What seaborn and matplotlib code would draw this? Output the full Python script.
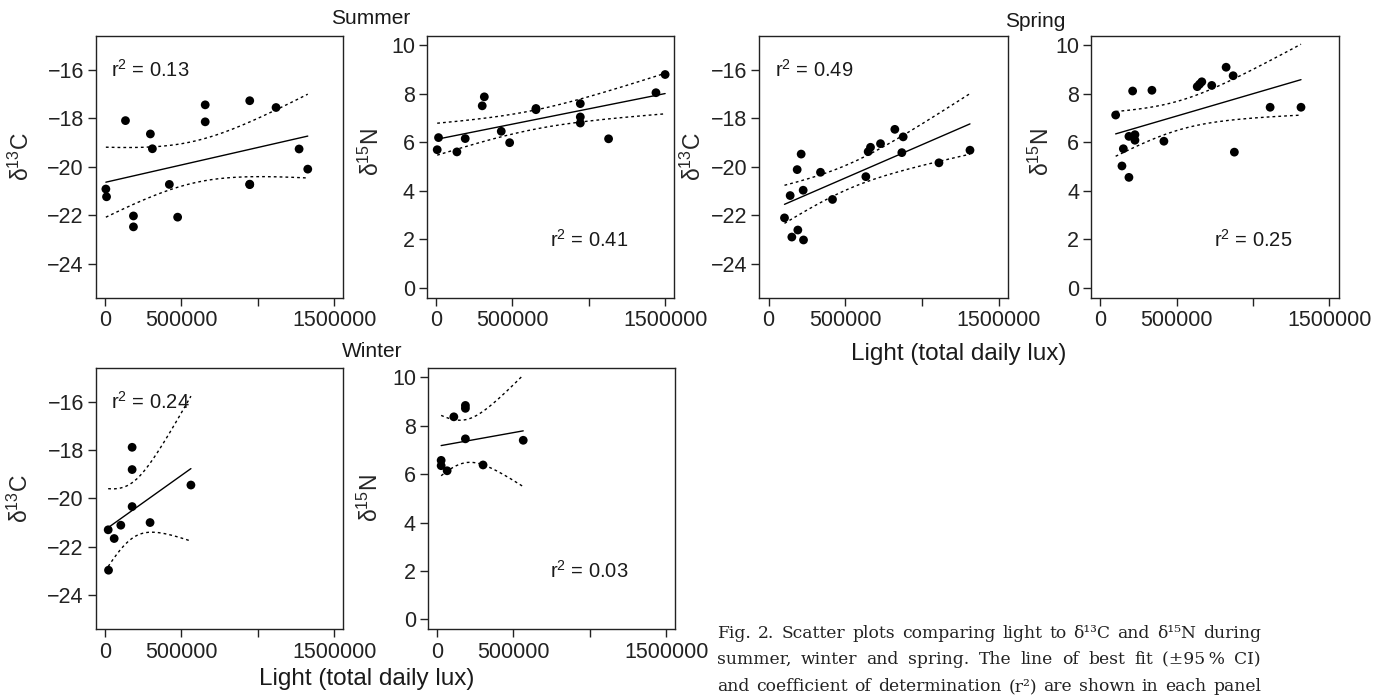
import numpy as np
import matplotlib
matplotlib.use("Agg")
import matplotlib.pyplot as plt
import seaborn as sns

# ---------------- data ----------------
summer_c_lux = [6500, 10900, 134800, 187000, 187000, 297800, 310900, 421800,
                476100, 656500, 656500, 947800, 947800, 947800, 1120000, 1270800,
                1327500]
summer_c_val = [-20.92, -21.24, -18.10, -22.03, -22.48, -18.65, -19.26, -20.73,
                -22.08, -17.45, -18.15, -17.28, -20.72, -20.74, -17.56, -19.27,
                -20.10]

summer_n_lux = [8700, 17400, 137600, 192000, 303300, 317000, 427800, 482700,
                655000, 655000, 945000, 945000, 945000, 1130000, 1440000, 1500000]
summer_n_val = [5.70, 6.20, 5.61, 6.16, 7.51, 7.88, 6.46, 5.99,
                7.40, 7.35, 7.60, 7.05, 6.80, 6.15, 8.05, 8.80]

spring_c_lux = [104300, 141300, 152200, 187000, 191300, 213000, 226100, 228300,
                339100, 417400, 634800, 650000, 665200, 730500, 823900, 869600,
                878300, 1111600, 1314000]
spring_c_val = [-22.11, -21.19, -22.90, -20.12, -22.61, -19.48, -20.97, -23.02,
                -20.23, -21.35, -20.41, -19.38, -19.20, -19.05, -18.46, -19.42,
                -18.77, -19.84, -19.32]

spring_n_lux = [101300, 142500, 151600, 188200, 188200, 212400, 227500, 227500,
                338600, 417000, 635000, 650000, 665000, 730000, 824000, 870000,
                878000, 1112000, 1314000]
spring_n_val = [7.13, 5.03, 5.74, 4.56, 6.25, 8.12, 6.32, 6.09,
                8.15, 6.05, 8.30, 8.40, 8.50, 8.35, 9.10, 8.75,
                5.60, 7.45, 7.45]

winter_c_lux = [21700, 23900, 60900, 104300, 178300, 178300, 178300, 295700, 563000]
winter_c_val = [-21.30, -22.97, -21.66, -21.11, -17.89, -18.81, -20.34, -21.00, -19.45]

winter_n_lux = [28000, 28000, 67200, 111000, 186700, 186700, 186700, 302200, 565000]
winter_n_val = [6.57, 6.35, 6.14, 8.37, 8.84, 8.72, 7.46, 6.38, 7.40]

season_titles = ["Summer", "Spring", "Winter"]
r2_text = ["0.13", "0.41", "0.49", "0.25", "0.24", "0.03"]
x_ticks = [0, 500000, 1000000, 1500000]
x_tick_labels = ["0", "500000", "", "1500000"]
c_ticks = [-24, -22, -20, -18, -16]
n_ticks = [0, 2, 4, 6, 8, 10]
x_title = "Light (total daily lux)"
caption_lines = [
    "Fig. 2. Scatter plots comparing light to \u03b4\u00b9\u00b3C and \u03b4\u00b9\u2075N during",
    "summer, winter and spring. The line of best fit (\u00b195\u2009% CI)",
    "and coefficient of determination (r\u00b2) are shown in each panel",
]

# two-sided 95% Student t quantiles by degrees of freedom
T975 = {5: 2.571, 6: 2.447, 7: 2.365, 8: 2.306, 9: 2.262, 10: 2.228,
        11: 2.201, 12: 2.179, 13: 2.160, 14: 2.145, 15: 2.131, 16: 2.120,
        17: 2.110, 18: 2.101, 19: 2.093, 20: 2.086}


def fit_band(x, y, n_grid=150):
    """Least-squares line with the 95% confidence band of the mean."""
    x = np.asarray(x, float)
    y = np.asarray(y, float)
    n = len(x)
    b1, b0 = np.polyfit(x, y, 1)
    resid = y - (b0 + b1 * x)
    s = np.sqrt(np.sum(resid ** 2) / (n - 2))
    xm = x.mean()
    sxx = np.sum((x - xm) ** 2)
    g = np.linspace(x.min(), x.max(), n_grid)
    yh = b0 + b1 * g
    se = s * np.sqrt(1.0 / n + (g - xm) ** 2 / sxx)
    t = T975[n - 2]
    return g, yh, yh - t * se, yh + t * se


# ---------------- style ----------------
sns.set_style("ticks")
plt.rcParams["font.family"] = ["Liberation Sans", "DejaVu Sans"]
plt.rcParams["mathtext.fontset"] = "custom"
plt.rcParams["mathtext.rm"] = "Liberation Sans"
plt.rcParams["mathtext.it"] = "Liberation Sans:italic"
plt.rcParams["mathtext.bf"] = "Liberation Sans:bold"
plt.rcParams["axes.edgecolor"] = "#222222"
plt.rcParams["axes.linewidth"] = 1.0
plt.rcParams["text.color"] = "#1a1a1a"

W, H = 1386, 696
fig = plt.figure(figsize=(W / 100, H / 100), dpi=100)
fig.patch.set_facecolor("white")


def box(l, t, r, b):
    return [l / W, 1 - b / H, (r - l) / W, (b - t) / H]


# panel layout: box in pixels, data, isotope, y-label right edge / height
panels = [
    dict(rect=(95.7, 35.7, 343.3, 297.7), x=summer_c_lux, y=summer_c_val, iso="C",
         lab=(34.0, 0.54), r2=r2_text[0]),
    dict(rect=(426.7, 35.7, 674.3, 297.7), x=summer_n_lux, y=summer_n_val, iso="N",
         lab=(384.0, 0.555), r2=r2_text[1]),
    dict(rect=(759.3, 35.7, 1007.7, 297.7), x=spring_c_lux, y=spring_c_val, iso="C",
         lab=(706.0, 0.54), r2=r2_text[2]),
    dict(rect=(1091.0, 35.7, 1338.6, 297.7), x=spring_n_lux, y=spring_n_val, iso="N",
         lab=(1054.0, 0.555), r2=r2_text[3]),
    dict(rect=(95.7, 367.7, 343.3, 629.0), x=winter_c_lux, y=winter_c_val, iso="C",
         lab=(32.5, 0.5), r2=r2_text[4]),
    dict(rect=(427.7, 367.7, 675.3, 629.0), x=winter_n_lux, y=winter_n_val, iso="N",
         lab=(382.5, 0.5), r2=r2_text[5]),
]

for p in panels:
    l, t, r, b = p["rect"]
    ax = fig.add_axes(box(l, t, r, b))
    ax.set_facecolor("white")
    g, yh, lo, hi = fit_band(p["x"], p["y"])

    sns.scatterplot(x=p["x"], y=p["y"], ax=ax, color="black", s=40,
                    edgecolor="none", linewidth=0, zorder=3)
    sns.lineplot(x=g, y=yh, ax=ax, color="black", lw=1.0, estimator=None)
    for band in (lo, hi):
        sns.lineplot(x=g, y=band, ax=ax, color="black", lw=1.0,
                     linestyle=(0, (2.0, 2.2)), estimator=None)

    ax.set_xlim(-60000, 1560000)
    ax.set_xticks(x_ticks)
    ax.set_xticklabels(x_tick_labels)
    if p["iso"] == "C":
        ax.set_ylim(-25.4, -14.6)
        ax.set_yticks(c_ticks)
        ax.set_yticklabels([("\u2212%d" % -v) for v in c_ticks])
        ax.set_ylabel("\u03b4$^{13}$C", fontsize=16.5)
        ax.text(43000, -16, "r$^2$ = " + p["r2"], fontsize=14.5, ha="left", va="center")
    else:
        ax.set_ylim(-0.4, 10.4)
        ax.set_yticks(n_ticks)
        ax.set_yticklabels([str(v) for v in n_ticks])
        ax.set_ylabel("\u03b4$^{15}$N", fontsize=16.5)
        ax.text(1000000, 2, "r$^2$ = " + p["r2"], fontsize=14.5, ha="center", va="center")
    lx, ly = p["lab"]
    ax.yaxis.set_label_coords((lx - l) / (r - l), ly)
    ax.set_xlabel("")
    ax.tick_params(axis="both", labelsize=15.5, length=6, width=1.0,
                   direction="out", colors="#222222")
    ax.tick_params(axis="y", pad=2.5)
    ax.tick_params(axis="x", pad=3.0)
    for sp in ax.spines.values():
        sp.set_visible(True)
        sp.set_linewidth(1.0)

# season headings
fig.text(371 / W, 1 - 18.3 / H, season_titles[0], fontsize=15, ha="center", va="center")
fig.text(1035 / W, 1 - 21.7 / H, season_titles[1], fontsize=15, ha="center", va="center")
fig.text(371.7 / W, 1 - 351.7 / H, season_titles[2], fontsize=15, ha="center", va="center")

# x axis titles
fig.text(367 / W, 1 - 679 / H, x_title, fontsize=17.5, ha="center", va="center")
fig.text(959 / W, 1 - 354 / H, x_title, fontsize=17.5, ha="center", va="center")

# justified caption block
renderer = fig.canvas.get_renderer()
cap_left, cap_right = 717.0, 1261.0
baselines = [637.5, 664.2, 690.9]
cap_font = dict(fontsize=12.3, family=["DejaVu Serif"], color="#222222")
for line, base in zip(caption_lines, baselines):
    words = line.split(" ")
    texts = [fig.text(0, 1 - base / H, w_, ha="left", va="baseline", **cap_font)
             for w_ in words]
    widths = [t_.get_window_extent(renderer).width for t_ in texts]
    gap = (cap_right - cap_left - sum(widths)) / max(len(words) - 1, 1)
    xpos = cap_left
    for t_, w_ in zip(texts, widths):
        t_.set_x(xpos / W)
        xpos += w_ + gap

fig.savefig("out.png", dpi=100, facecolor="white")
